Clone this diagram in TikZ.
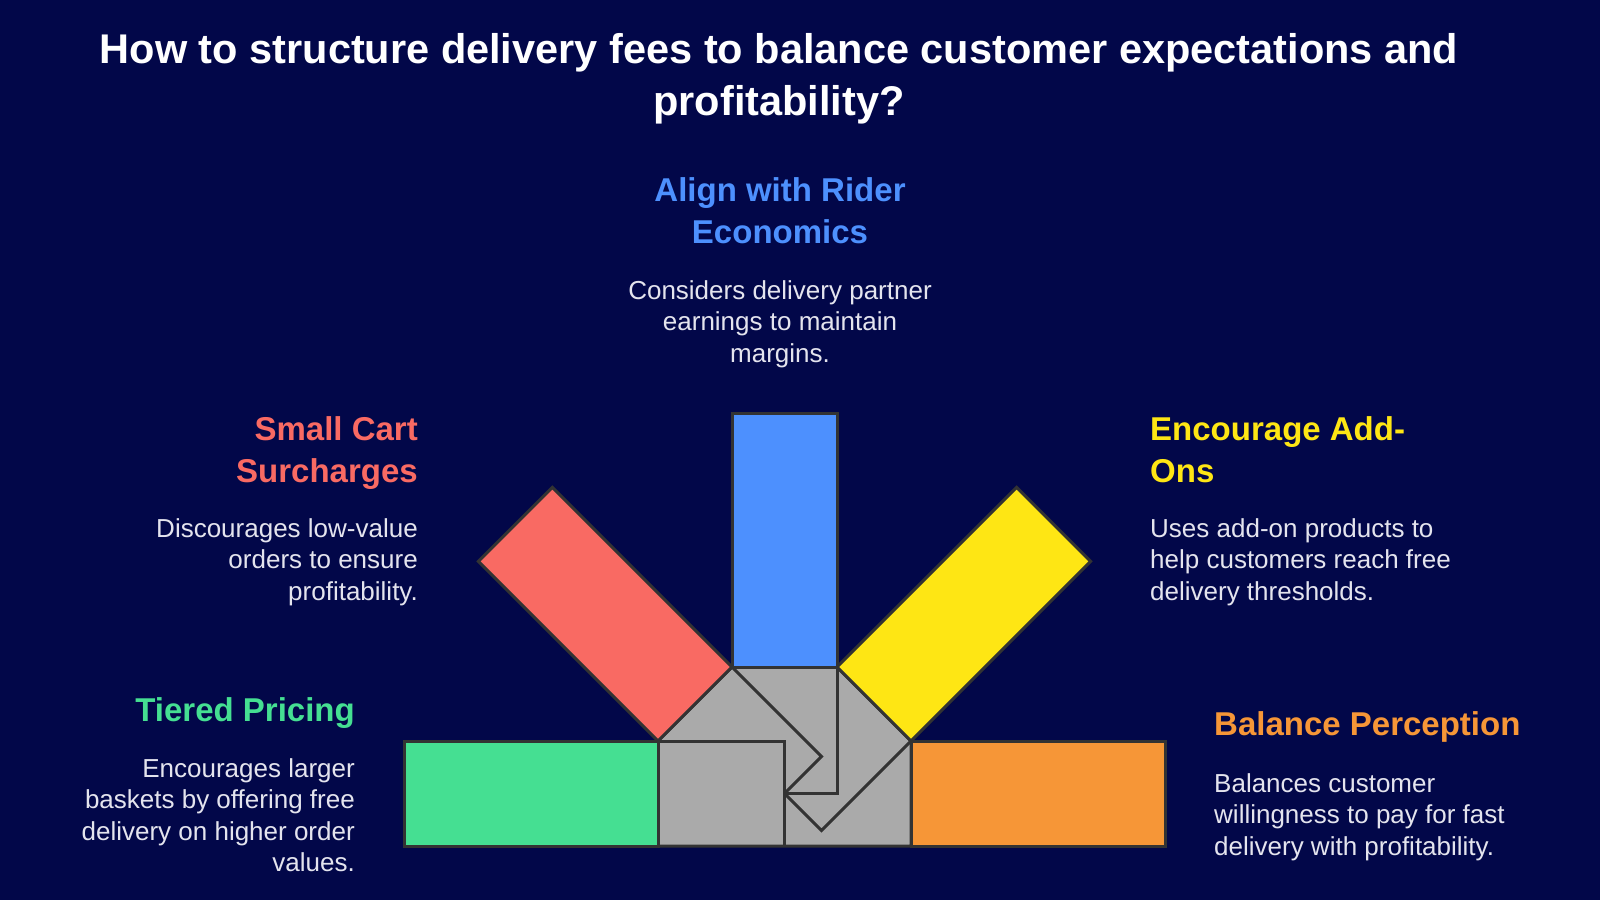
\documentclass[tikz,border=0pt]{standalone}
\usepackage{fontspec}
\setmainfont{Liberation Sans}
\usepackage{xcolor}
\usetikzlibrary{positioning}
\definecolor{bgnavy}{RGB}{2,7,73}
\definecolor{hubgray}{RGB}{170,170,170}
\definecolor{edgegray}{RGB}{51,51,51}
\definecolor{desctext}{RGB}{228,228,238}
\definecolor{riderblue}{RGB}{77,144,254}
\definecolor{cartred}{RGB}{249,106,99}
\definecolor{addonyellow}{RGB}{254,230,20}
\definecolor{tiergreen}{RGB}{69,223,146}
\definecolor{percorange}{RGB}{246,150,55}
\tikzset{
  bar/.style={draw=edgegray, line width=3pt, line join=miter},
  hub/.style={fill=hubgray, draw=edgegray, line width=3pt, line join=miter},
  seam/.style={draw=edgegray, line width=3pt, line join=miter},
  head/.style={font=\fontsize{33}{42}\selectfont\bfseries, inner sep=0pt},
  desc/.style={font=\fontsize{26}{31.5}\selectfont, text=desctext, inner sep=0pt},
}

\begin{document}
\begin{tikzpicture}[x=1pt, y=-1pt]
\fill[bgnavy] (0,0) rectangle (1600,900);
\useasboundingbox (0,0) rectangle (1600,900);

\node[font=\fontsize{41.5}{52}\selectfont\bfseries, text=white, align=center, inner sep=0pt, anchor=base] (title) at (779,115)
  {How to structure delivery fees to balance customer expectations and\\profitability?};

% hub and the five bars
\coordinate (hubNW) at (658,741);
\coordinate (hubN1) at (732,667);
\coordinate (hubN2) at (837,667);
\coordinate (hubNE) at (911,741);
\coordinate (hubSE) at (911,846);
\coordinate (hubSW) at (658,846);
\coordinate (hubC) at (784.5,793.5);
\draw[hub] (hubNW) -- (hubN1) -- (hubN2) -- (hubNE) -- (hubSE) -- (hubSW) -- cycle;

\draw[bar, fill=tiergreen] (404,741) rectangle (hubSW);
\draw[bar, fill=percorange] (hubNE) rectangle (1165,846);
\draw[bar, fill=riderblue] (732,413) rectangle (hubN2);
\draw[bar, fill=cartred] (hubNW) -- (hubN1) -- (552.4,487.4) -- (478.4,561.4) -- cycle;
\draw[bar, fill=addonyellow] (hubNE) -- (hubN2) -- (1016.6,487.4) -- (1090.6,561.4) -- cycle;

\draw[seam] (hubNW) -- (784.5,741) -- (784.5,846);
\draw[seam] (hubN1) -- (821.5,756.5) -- (hubC);
\draw[seam] (hubN2) -- (837,793.5) -- (hubC);
\draw[seam] (hubNE) -- (821.5,830.5) -- (hubC);

% labels
\node[head, text=riderblue, align=center, anchor=base] (riderHead) at (780,243) {Align with Rider\\Economics};
\node[desc, align=center, anchor=base] (riderDesc) at (780,362) {Considers delivery partner\\earnings to maintain\\margins.};

\node[head, text=cartred, align=right, anchor=base east] (cartHead) at (418,482) {Small Cart\\Surcharges};
\node[desc, align=right, anchor=base east] (cartDesc) at (418,600) {Discourages low-value\\orders to ensure\\profitability.};

\node[head, text=addonyellow, align=left, anchor=base west] (addonHead) at (1150,482) {Encourage Add-\\Ons};
\node[desc, align=left, anchor=base west] (addonDesc) at (1150,600) {Uses add-on products to\\help customers reach free\\delivery thresholds.};

\node[head, text=tiergreen, align=right, anchor=base east] (tierHead) at (355,721) {Tiered Pricing};
\node[desc, align=right, anchor=base east] (tierDesc) at (355,871.5) {Encourages larger\\baskets by offering free\\delivery on higher order\\values.};

\node[head, text=percorange, align=left, anchor=base west] (percHead) at (1214,735) {Balance Perception};
\node[desc, align=left, anchor=base west] (percDesc) at (1214,855) {Balances customer\\willingness to pay for fast\\delivery with profitability.};
\end{tikzpicture}
\end{document}
